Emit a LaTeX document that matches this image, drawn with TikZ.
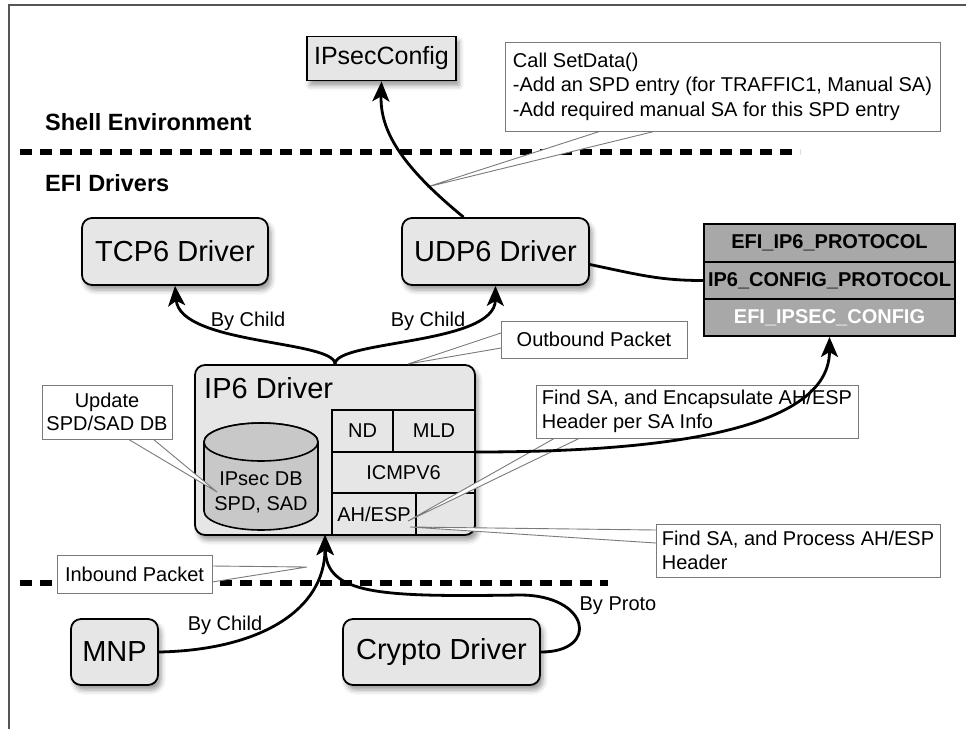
\documentclass[tikz,border=0pt]{standalone}
\usepackage{fontspec}
\setmainfont{Liberation Sans}
\usetikzlibrary{arrows.meta,shadows.blur,calc}
\definecolor{boxgray}{HTML}{E6E6E6}
\definecolor{dbgray}{HTML}{C8C8C8}
\definecolor{stackgray}{HTML}{A8A8A8}
\definecolor{callgray}{HTML}{7A7A7A}
\definecolor{framegray}{HTML}{555555}
\tikzset{
  box/.style={draw=black, line width=1.8pt, fill=boxgray, rounded corners=10pt, inner sep=0pt,
    font=\fontsize{29}{34}\selectfont,
    blur shadow={shadow xshift=3pt, shadow yshift=-5pt, shadow blur radius=5pt, shadow opacity=40}},
  stackbox/.style={draw=black, line width=2pt, fill=stackgray, inner sep=0pt, minimum width=251pt,
    font=\bfseries\fontsize{20}{24}\selectfont},
  callbox/.style={draw=callgray, line width=0.9pt, fill=white, inner sep=0pt, align=left,
    font=\fontsize{20}{23.5}\selectfont},
  wedge/.style={draw=callgray, line width=0.9pt, fill=white},
  small/.style={inner sep=0pt, font=\fontsize{20}{24}\selectfont},
  heading/.style={inner sep=0pt, anchor=west, font=\bfseries\fontsize{23.5}{28}\selectfont},
  sepline/.style={line width=5.5pt, dash pattern=on 12pt off 8pt},
  conn/.style={line width=2.8pt, draw=black},
  arr/.style={conn, -{Stealth[length=20pt,width=17pt,inset=5pt]}},
  grid/.style={line width=1.8pt, draw=black}
}
\begin{document}
\begin{tikzpicture}[x=1pt,y=-1pt]
\useasboundingbox (0,0) rectangle (966,729);
% frame
\draw[framegray, line width=2pt] (966,5) -- (9,5) -- (9,729);
% separators and headings
\draw[sepline] (20,152) -- (800,152);
\draw[sepline] (20,583) -- (608,583);
\node[heading] (shell) at (45,122) {Shell Environment};
\node[heading] (efi) at (45,183) {EFI Drivers};

% main boxes
\node[box, sharp corners, minimum width=149pt, minimum height=44pt, font=\fontsize{25}{30}\selectfont] (ipsec) at (381.5,58.5) {IPsecConfig};
\node[box, minimum width=186pt, minimum height=67pt] (tcp) at (175,251.5) {TCP6 Driver};
\node[box, minimum width=187pt, minimum height=67pt] (udp) at (495.5,251.5) {UDP6 Driver};
\node[box, minimum width=280pt, minimum height=170pt] (ip6) at (335,450) {};
\node[box, minimum width=87pt, minimum height=66pt] (mnp) at (114.5,652) {MNP};
\node[box, minimum width=197pt, minimum height=66pt] (crypto) at (441.5,652) {Crypto Driver};

% protocol stack
\node[stackbox, minimum height=38pt] (s1) at (829.5,243) {EFI\_IP6\_PROTOCOL};
\node[stackbox, minimum height=37pt] (s2) at (829.5,280.5) {IP6\_CONFIG\_PROTOCOL};
\node[stackbox, minimum height=37pt, text=white] (s3) at (829.5,317.5) {EFI\_IPSEC\_CONFIG};

% IP6 driver contents
\node[inner sep=0pt, anchor=west, font=\fontsize{29}{34}\selectfont] (ip6t) at (204,388) {IP6 Driver};
\draw[grid] (475,410) -- (332,410) -- (332,535);
\draw[grid] (393,410) -- (393,452);
\draw[grid] (332,452) -- (475,452);
\draw[grid] (332,493) -- (475,493);
\draw[grid] (416,493) -- (416,535);
\node[small] (nd) at (362.5,431) {ND};
\node[small] (mld) at (434,431) {MLD};
\node[small] (icmp) at (403.5,472.5) {ICMPV6};
\node[small] (ahesp) at (374,514) {AH/ESP};
\coordinate (icmpR) at (475,452);
\coordinate (ip6in) at (325,535);

% cylinder
\draw[fill=dbgray, line width=1.6pt] (204,442) -- (204,511) arc[start angle=180, end angle=0, x radius=57, y radius=19] -- (318,442) arc[start angle=0, end angle=-180, x radius=57, y radius=19] -- cycle;
\draw[fill=dbgray, line width=1.6pt] (261,442) ellipse[x radius=57, y radius=19];
\node[small, align=center, font=\fontsize{20}{25}\selectfont] (dbtxt) at (261,492.5) {IPsec DB\\SPD, SAD};

% callouts
\coordinate (apSet) at (427,187);
\coordinate (apOut) at (408,364);
\coordinate (apUpd) at (217,492);
\coordinate (apEnc) at (408,521);
\coordinate (apPro) at (410,527);
\coordinate (apIn) at (307,567);
\path[wedge] (601,131) -- (apSet) -- (656,131);
\node[callbox, minimum width=435pt, minimum height=89pt, font=\fontsize{20}{24.5}\selectfont] (setdata) at (722.5,86.5)
  {Call SetData()\\-Add an SPD entry (for TRAFFIC1, Manual SA)\\-Add required manual SA for this SPD entry};
\path[wedge] (501,333) -- (apOut) -- (501,348);
\node[callbox, minimum width=186pt, minimum height=37pt] (outb) at (594,339.5) {Outbound Packet};
\path[wedge] (128,439) -- (apUpd) -- (153,439);
\node[callbox, align=center, minimum width=130pt, minimum height=54pt] (upd) at (107,412) {Update\\SPD/SAD DB};
\path[wedge] (555,438) -- (apEnc) -- (580,438);
\node[callbox, minimum width=322pt, minimum height=53pt] (enc) at (697,411.5) {Find SA, and Encapsulate AH/ESP\\Header per SA Info};
\path[wedge] (656,530) -- (apPro) -- (656,543);
\node[callbox, minimum width=284pt, minimum height=53pt] (proc) at (798,550.5) {Find SA, and Process AH/ESP\\Header};
\path[wedge] (212,566) -- (apIn) -- (212,582);
\node[callbox, minimum width=155pt, minimum height=38pt] (inb) at (134.5,574) {Inbound Packet};

% connectors
\draw[arr] (ip6.north) .. controls (335,340) and (180,345) .. (tcp.south);
\draw[arr] (ip6.north) .. controls (335,340) and (495,345) .. (udp.south);
\draw[arr] ($(udp.north)+(-32,0)$) .. controls (400,165) and (380,130) .. (ipsec.south);
\draw[conn] ($(udp.east)+(0,13)$) .. controls (640,275) and (660,280.5) .. (s2.west);
\draw[arr] (icmpR) .. controls (620,452) and (829.5,440) .. (s3.south);
\draw[arr] (mnp.east) .. controls (260,650) and (325,610) .. (ip6in);
\draw[arr] (crypto.east) .. controls (600,652) and (590,595) .. (520,595) .. controls (380,597) and (326,595) .. (ip6in);

% connector labels
\node[small] (bc1) at (248,321) {By Child};
\node[small] (bc2) at (428,321) {By Child};
\node[small] (bc3) at (225,625) {By Child};
\node[small] (bp) at (618,606) {By Proto};
\end{tikzpicture}
\end{document}
